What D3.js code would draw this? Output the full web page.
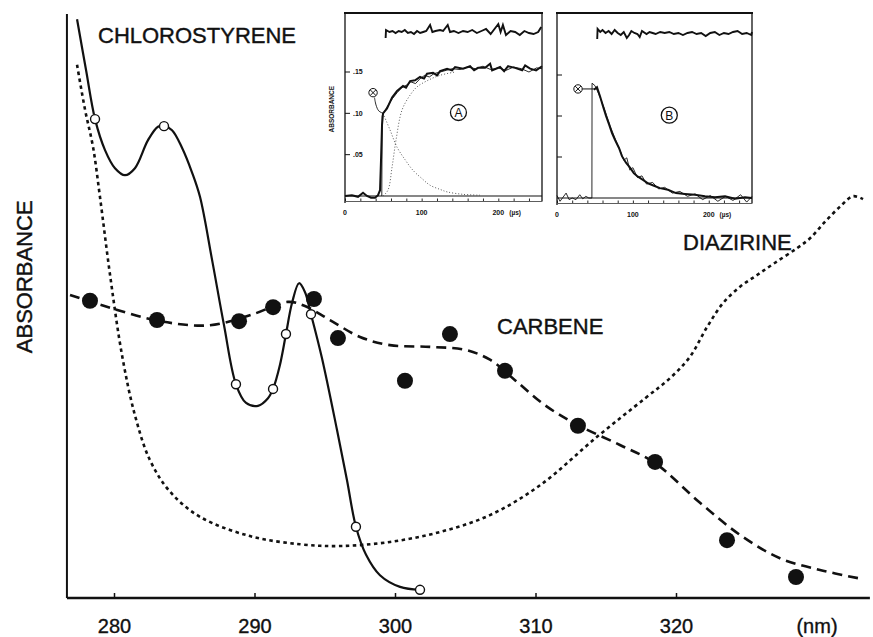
<!DOCTYPE html>
<html>
<head>
<meta charset="utf-8">
<script src="https://cdn.jsdelivr.net/npm/d3@7"></script>
<style>
  body { margin: 0; background: #fff; }
  svg { display: block; font-family: "Liberation Sans", Arial, sans-serif; }
</style>
</head>
<body>
<svg id="chart" width="873" height="637"></svg>
<script>
// ---- main spectrum data: [wavelength nm, absorbance (arbitrary units 0-100)] ----
const xTicks = [280, 290, 300, 310, 320, 330];

const chloroCurve = [
  [277.37, 99.1], [278.01, 90.4], [278.65, 82.0], [279.36, 76.7], [280.07, 73.6],
  [280.78, 72.4], [281.49, 73.6], [282.42, 78.4], [283.13, 80.7], [283.56, 80.8],
  [284.13, 80.1], [284.84, 77.1], [285.55, 72.9], [286.12, 68.7], [286.98, 57.9],
  [287.83, 46.7], [288.68, 36.6], [289.4, 33.4], [290.25, 32.9], [290.96, 34.2],
  [291.32, 35.8], [291.81, 39.9], [292.24, 45.2], [292.67, 50.5], [293.17, 53.9],
  [293.59, 52.4], [294.02, 48.6], [294.8, 41.1], [295.87, 28.8], [296.58, 20.2],
  [297.22, 12.2], [297.94, 7.4], [298.93, 3.9], [300.36, 1.9], [301.78, 1.4]
];
const chloroPoints = [
  [278.65, 82.0], [283.56, 80.8], [288.68, 36.6], [291.32, 35.8],
  [292.24, 45.2], [294.02, 48.6], [297.22, 12.2], [301.78, 1.4]
];

const diazirineCurve = [
  [277.37, 91.3], [277.94, 83.6], [278.51, 77.2], [279.0, 68.7], [279.72, 55.3],
  [280.57, 41.6], [281.49, 31.3], [282.56, 23.6], [283.99, 18.2], [286.12, 13.9],
  [289.68, 10.6], [293.24, 9.2], [296.09, 8.9], [299.64, 9.6], [303.2, 11.3],
  [306.76, 14.2], [310.32, 19.3], [314.38, 27.6], [317.8, 34.2], [319.6, 37.7],
  [320.99, 41.3], [322.21, 46.4], [323.35, 50.5], [324.56, 53.3], [325.77, 55.3],
  [327.05, 57.4], [328.61, 59.9], [329.54, 61.6], [330.6, 64.4], [331.67, 67.0],
  [332.6, 68.8], [333.31, 68.3]
];

const carbeneCurve = [
  [276.87, 51.9], [279.72, 49.7], [283.27, 47.4], [286.83, 46.7], [289.89, 48.6],
  [292.38, 50.7], [293.59, 50.0], [295.37, 47.6], [297.51, 44.7], [299.64, 43.3],
  [302.49, 43.0], [304.98, 42.5], [306.76, 40.8], [308.54, 37.3], [310.68, 33.0],
  [313.02, 29.6], [316.01, 26.2], [318.51, 23.1], [321.71, 16.3], [324.56, 10.8],
  [327.4, 6.8], [330.25, 4.8], [332.95, 3.4]
];
const carbenePoints = [
  [278.29, 50.9], [283.06, 47.6], [288.9, 47.4], [291.32, 49.8], [294.23, 51.2],
  [295.94, 44.5], [300.71, 37.2], [303.91, 45.2], [307.83, 38.9], [313.02, 29.5],
  [318.51, 23.3], [323.63, 9.9], [328.54, 3.6]
];

// ---- inset A (growth), time in microseconds, absorbance ----
const insetTimeLabels = [0, 100, 200];
const insetATicks = [0.05, 0.10, 0.15];
const insetAData = [
  [0, 0], [9, 0.001], [17, -0.001], [23.5, 0.004], [28.7, 0], [34, -0.002], [39.2, -0.002],
  [43.1, 0.001], [45.7, 0.007], [47, 0.044], [48.3, 0.086], [49.6, 0.100], [54.8, 0.106],
  [61.4, 0.119], [67.9, 0.127], [75.7, 0.133], [79.6, 0.131], [84.9, 0.139], [91.4, 0.140],
  [97.9, 0.144], [103.1, 0.142], [107, 0.148], [114.9, 0.149], [120.1, 0.146], [124, 0.151],
  [133.2, 0.154], [139.7, 0.152], [143.6, 0.156], [154, 0.154], [163.2, 0.157], [168.4, 0.152],
  [173.6, 0.155], [182.8, 0.155], [189.3, 0.160], [191.9, 0.152], [202.3, 0.156], [207.6, 0.151],
  [212.8, 0.157], [221.9, 0.155], [231.1, 0.152], [235, 0.158], [241.5, 0.154], [249.3, 0.152],
  [257, 0.157]
];
const insetAThin = [
  [48, 0], [48.5, 0.097], [55, 0.108], [62, 0.118], [68, 0.125], [74, 0.131], [80, 0.134],
  [86, 0.138], [92, 0.136], [98, 0.142], [104, 0.146], [110, 0.144], [116, 0.148], [124, 0.150],
  [132, 0.152], [140, 0.154], [150, 0.153], [160, 0.156], [170, 0.154], [180, 0.157],
  [190, 0.153], [200, 0.155], [210, 0.152], [220, 0.156], [230, 0.154], [240, 0.150],
  [250, 0.155], [257, 0.154]
];
const insetAGrowth = [
  [49.6, 0], [56, 0.007], [61.4, 0.035], [66.6, 0.068], [74.4, 0.104], [84.9, 0.122],
  [94, 0.132], [108.4, 0.140], [124, 0.146], [143.6, 0.150]
];
const insetADecay = [
  [49.6, 0.100], [58.7, 0.080], [67.9, 0.059], [78.3, 0.044], [88.8, 0.031], [100.5, 0.021],
  [111, 0.013], [124, 0.008], [133.2, 0.005], [154, 0.002], [176, 0.001]
];
const insetAMarker = [36.6, 0.125];
const insetAHook = [[38.5, 0.119], [40.5, 0.110], [44, 0.103], [49.6, 0.100]];
const insetAResidual = [
  [53, -6], [53.5, 2], [58, 0], [62, 1], [66, -1], [70, 1], [74, 0], [78, 2], [82, -1],
  [86, 0], [90, -2], [94, 1], [98, -1], [102, 0], [106, 1], [111, 7], [114, 0], [118, 1],
  [124, 2], [128, 1], [134, 7], [137, 0], [142, 1], [148, -1], [154, 1], [160, 0], [166, 2],
  [172, -1], [178, 1], [184, 3], [190, -2], [200, 8], [203, 0], [206, 7], [210, -3],
  [216, 1], [222, 0], [228, -3], [234, 1], [240, -1], [246, -2], [252, 0], [256, 5]
];

// ---- inset B (decay) ----
const insetBTicks = [0.05, 0.10, 0.15];
const insetBData = [
  [48.7, 0.132], [52.7, 0.135], [56.7, 0.124], [60.6, 0.112], [64.6, 0.100], [68.5, 0.090],
  [72.5, 0.079], [76.4, 0.071], [81.7, 0.061], [85.6, 0.051], [90.9, 0.043], [96.2, 0.037],
  [101.4, 0.030], [106.7, 0.026], [113.3, 0.022], [119.9, 0.018], [127.8, 0.015],
  [135.7, 0.012], [146.2, 0.010], [156.8, 0.006], [168.6, 0.005], [181.8, 0.004],
  [195, 0.002], [208.2, 0.001], [221.3, 0.002], [234.5, -0.001], [247.7, 0.001], [257, 0]
];
const insetBThin = [
  [0, 0.003], [4, -0.004], [8, 0.001], [12, 0.006], [16, -0.002], [20, 0], [25, -0.002],
  [30, 0.004], [34, -0.001], [38, 0.002], [42, 0], [46, 0], [46.2, 0.140], [50, 0.137],
  [55, 0.127], [62, 0.110], [70, 0.088], [78, 0.069], [84, 0.056], [88, 0.046], [92, 0.049],
  [96, 0.034], [100, 0.037], [106, 0.025], [112, 0.027], [118, 0.017], [126, 0.019],
  [134, 0.011], [142, 0.013], [152, 0.006], [162, 0.008], [172, 0.002], [182, 0.005],
  [192, -0.002], [202, 0.003], [212, -0.004], [222, 0.002], [232, -0.003], [242, 0.004],
  [250, -0.005], [257, 0.002]
];
const insetBMarker = [27.7, 0.133];
const insetBArrowEnd = [50, 0.133];
const insetBResidual = [
  [53, -6], [53.5, 4], [57, 1], [60, 3], [64, 0], [68, 2], [72, -1], [76, 3], [80, 0],
  [84, -2], [88, 1], [92, -5], [95, -2], [98, 2], [102, 0], [106, -1], [109, -4], [112, 2],
  [118, -1], [122, 1], [126, 0], [130, -1], [136, 1], [142, 0], [148, 1], [154, -1],
  [160, 0], [166, -2], [172, 0], [178, 1], [184, -1], [190, 0], [196, -3], [202, 0],
  [208, 1], [214, -2], [220, 0], [226, -1], [232, 1], [238, 2], [244, -1], [250, 0],
  [256, -2], [257, 1]
];

const svg = d3.select("#chart");

// ---- main scales ----
const xMin = 276.65, xMax = 333.8;
const x = d3.scaleLinear().domain([280, 320]).range([114, 676]);
const y = d3.scaleLinear().domain([0, 100]).range([598, 14]);

// axes frame
svg.append("line")
  .attr("x1", x(xMin)).attr("x2", x(xMin))
  .attr("y1", y(0)).attr("y2", y(100))
  .attr("stroke", "#111").attr("stroke-width", 2);

svg.append("line")
  .attr("x1", x(xMin)).attr("x2", x(xMax))
  .attr("y1", y(0)).attr("y2", y(0))
  .attr("stroke", "#111").attr("stroke-width", 2.5);

const xAxis = svg.append("g")
  .attr("transform", `translate(0,${y(0)})`)
  .call(d3.axisBottom(x).tickValues(xTicks).tickSizeInner(-5).tickSizeOuter(0)
    .tickFormat(d => d === 330 ? "(nm)" : d));
xAxis.select(".domain").remove();
xAxis.selectAll(".tick line").attr("stroke", "#111").attr("stroke-width", 1.5)
  .filter(d => d === 330).remove();
xAxis.selectAll(".tick text")
  .attr("y", 35).attr("dy", 0)
  .attr("font-size", "20px")
  .attr("font-family", "Liberation Sans, Arial, sans-serif")
  .attr("fill", "#111")
  .attr("stroke", "#111").attr("stroke-width", 0.35);

// axis title
svg.append("text")
  .attr("transform", `translate(32,${y(55)}) rotate(-90)`)
  .attr("text-anchor", "middle")
  .attr("font-size", "22px")
  .attr("fill", "#111")
  .attr("stroke", "#111").attr("stroke-width", 0.4)
  .text("ABSORBANCE");

const line = d3.line()
  .x(d => x(d[0]))
  .y(d => y(d[1]))
  .curve(d3.curveCatmullRom.alpha(0.5));

// diazirine (dotted)
svg.append("path")
  .datum(diazirineCurve)
  .attr("fill", "none")
  .attr("stroke", "#111")
  .attr("stroke-width", 2.6)
  .attr("stroke-dasharray", "3.5,3.5")
  .attr("d", line);

// carbene (dashed)
svg.append("path")
  .datum(carbeneCurve)
  .attr("fill", "none")
  .attr("stroke", "#111")
  .attr("stroke-width", 2.6)
  .attr("stroke-dasharray", "10,6")
  .attr("d", line);

// chlorostyrene (solid)
svg.append("path")
  .datum(chloroCurve)
  .attr("fill", "none")
  .attr("stroke", "#111")
  .attr("stroke-width", 2.2)
  .attr("d", line);

svg.selectAll("circle.carbene")
  .data(carbenePoints)
  .enter()
  .append("circle")
  .attr("class", "carbene")
  .attr("cx", d => x(d[0]))
  .attr("cy", d => y(d[1]))
  .attr("r", 8)
  .attr("fill", "#111");

svg.selectAll("circle.chloro")
  .data(chloroPoints)
  .enter()
  .append("circle")
  .attr("class", "chloro")
  .attr("cx", d => x(d[0]))
  .attr("cy", d => y(d[1]))
  .attr("r", 4.5)
  .attr("fill", "#fff")
  .attr("stroke", "#111")
  .attr("stroke-width", 1.4);

// series labels
const seriesLabels = svg.append("g")
  .attr("font-size", "22px").attr("fill", "#111")
  .attr("stroke", "#111").attr("stroke-width", 0.4);
seriesLabels.append("text").attr("x", 98).attr("y", 43).text("CHLOROSTYRENE");
seriesLabels.append("text").attr("x", 683).attr("y", 250).text("DIAZIRINE");
seriesLabels.append("text").attr("x", 497).attr("y", 334).text("CARBENE");

// ---- insets ----
function drawMarker(g, cx, cy) {
  g.append("circle").attr("cx", cx).attr("cy", cy).attr("r", 4.2)
    .attr("fill", "#fff").attr("stroke", "#111").attr("stroke-width", 1);
  g.append("path")
    .attr("d", `M${cx - 2.8},${cy - 2.8}L${cx + 2.8},${cy + 2.8}M${cx - 2.8},${cy + 2.8}L${cx + 2.8},${cy - 2.8}`)
    .attr("stroke", "#111").attr("stroke-width", 1);
}

function drawInset(cfg) {
  const g = svg.append("g");
  const t = d3.scaleLinear().domain([0, 257]).range(cfg.xRange);
  const a = d3.scaleLinear().domain([0, 0.15]).range(cfg.yRange);
  const r = d3.scaleLinear().domain([-10, 10]).range([cfg.resY + 10, cfg.resY - 10]);
  const [left, right] = cfg.xRange;
  const top = 13, axisY = a(0) + 5;

  // frame
  g.append("line").attr("x1", left - 1).attr("x2", right + 1).attr("y1", top).attr("y2", top)
    .attr("stroke", "#111").attr("stroke-width", 2);
  g.append("line").attr("x1", left).attr("x2", left).attr("y1", top).attr("y2", axisY + 2)
    .attr("stroke", "#111").attr("stroke-width", 1.3);
  g.append("line").attr("x1", right).attr("x2", right).attr("y1", top).attr("y2", axisY)
    .attr("stroke", "#111").attr("stroke-width", 1.3);

  // time axis
  const tAxis = g.append("g")
    .attr("transform", `translate(0,${axisY})`)
    .call(d3.axisBottom(t).tickValues(d3.range(0, 257, 20)).tickSizeInner(-2.5).tickSizeOuter(0).tickFormat(""));
  tAxis.select(".domain").attr("stroke", "#333").attr("stroke-width", 0.8);
  tAxis.selectAll(".tick line").attr("stroke", "#111").attr("stroke-width", 0.9);

  g.selectAll("text.tl")
    .data(insetTimeLabels)
    .enter()
    .append("text")
    .attr("class", "tl")
    .attr("x", d => t(d))
    .attr("y", axisY + 14)
    .attr("text-anchor", "middle")
    .attr("font-size", "7px")
    .attr("font-weight", "bold")
    .attr("fill", "#111")
    .text(d => d);
  g.append("text").attr("x", t(222)).attr("y", axisY + 14)
    .attr("text-anchor", "middle").attr("font-size", "6.5px").attr("font-weight", "bold")
    .attr("fill", "#111").text("(µs)");

  // absorbance ticks
  g.selectAll("line.yt")
    .data(cfg.yTicks)
    .enter()
    .append("line")
    .attr("class", "yt")
    .attr("x1", left).attr("x2", left + 5)
    .attr("y1", d => a(d)).attr("y2", d => a(d))
    .attr("stroke", "#111").attr("stroke-width", 1);
  if (cfg.labels) {
    g.selectAll("text.yl")
      .data(cfg.yTicks)
      .enter()
      .append("text")
      .attr("class", "yl")
      .attr("x", left + 8)
      .attr("y", d => a(d))
      .attr("dy", "0.35em")
      .attr("font-size", "7px")
      .attr("font-weight", "bold")
      .attr("fill", "#111")
      .text(d => d3.format(".2f")(d).replace(/^0/, ""));
    g.append("text")
      .attr("transform", `translate(${left - 11},${a(0.105)}) rotate(-90)`)
      .attr("text-anchor", "middle")
      .attr("font-size", "6.5px")
      .attr("font-weight", "bold")
      .attr("fill", "#111")
      .text("ABSORBANCE");
  }

  const ln = d3.line().x(d => t(d[0])).y(d => a(d[1]));
  const lnSmooth = d3.line().x(d => t(d[0])).y(d => a(d[1])).curve(d3.curveCatmullRom);
  const lnRes = d3.line().x(d => t(d[0])).y(d => r(d[1]));

  // zero baseline
  g.append("path").datum([[0, 0], [257, 0]]).attr("d", ln)
    .attr("fill", "none").attr("stroke", "#111").attr("stroke-width", 1.1);

  (cfg.dotted || []).forEach(series => {
    g.append("path").datum(series).attr("d", lnSmooth)
      .attr("fill", "none").attr("stroke", "#444").attr("stroke-width", 0.9)
      .attr("stroke-dasharray", "1,2");
  });

  g.append("path").datum(cfg.thin).attr("d", ln)
    .attr("fill", "none").attr("stroke", "#111").attr("stroke-width", 0.9);
  g.append("path").datum(cfg.data).attr("d", ln)
    .attr("fill", "none").attr("stroke", "#111").attr("stroke-width", 2);

  g.append("path").datum(cfg.residual).attr("d", lnRes)
    .attr("fill", "none").attr("stroke", "#111").attr("stroke-width", 1.9);

  // marker
  drawMarker(g, t(cfg.marker[0]), a(cfg.marker[1]));
  if (cfg.hook) {
    g.append("path").datum(cfg.hook).attr("d", lnSmooth)
      .attr("fill", "none").attr("stroke", "#111").attr("stroke-width", 0.9);
  }
  if (cfg.arrowEnd) {
    g.append("line")
      .attr("x1", t(cfg.marker[0]) + 4.2).attr("x2", t(cfg.arrowEnd[0]))
      .attr("y1", a(cfg.marker[1])).attr("y2", a(cfg.arrowEnd[1]))
      .attr("stroke", "#111").attr("stroke-width", 1);
  }

  // circled letter
  g.append("circle").attr("cx", t(148)).attr("cy", a(0.101)).attr("r", 8)
    .attr("fill", "#fff").attr("stroke", "#111").attr("stroke-width", 1.3);
  g.append("text").attr("x", t(148)).attr("y", a(0.101)).attr("dy", "0.36em")
    .attr("text-anchor", "middle").attr("font-size", "12px").attr("fill", "#111")
    .text(cfg.letter);
}

drawInset({
  xRange: [345, 542], yRange: [196, 72], resY: 32,
  yTicks: insetATicks, labels: true,
  data: insetAData, thin: insetAThin,
  dotted: [insetAGrowth, insetADecay],
  residual: insetAResidual,
  marker: insetAMarker, hook: insetAHook,
  letter: "A"
});

drawInset({
  xRange: [557, 752], yRange: [198, 75], resY: 33,
  yTicks: insetBTicks, labels: false,
  data: insetBData, thin: insetBThin,
  residual: insetBResidual,
  marker: insetBMarker, arrowEnd: insetBArrowEnd,
  letter: "B"
});
</script>
</body>
</html>
